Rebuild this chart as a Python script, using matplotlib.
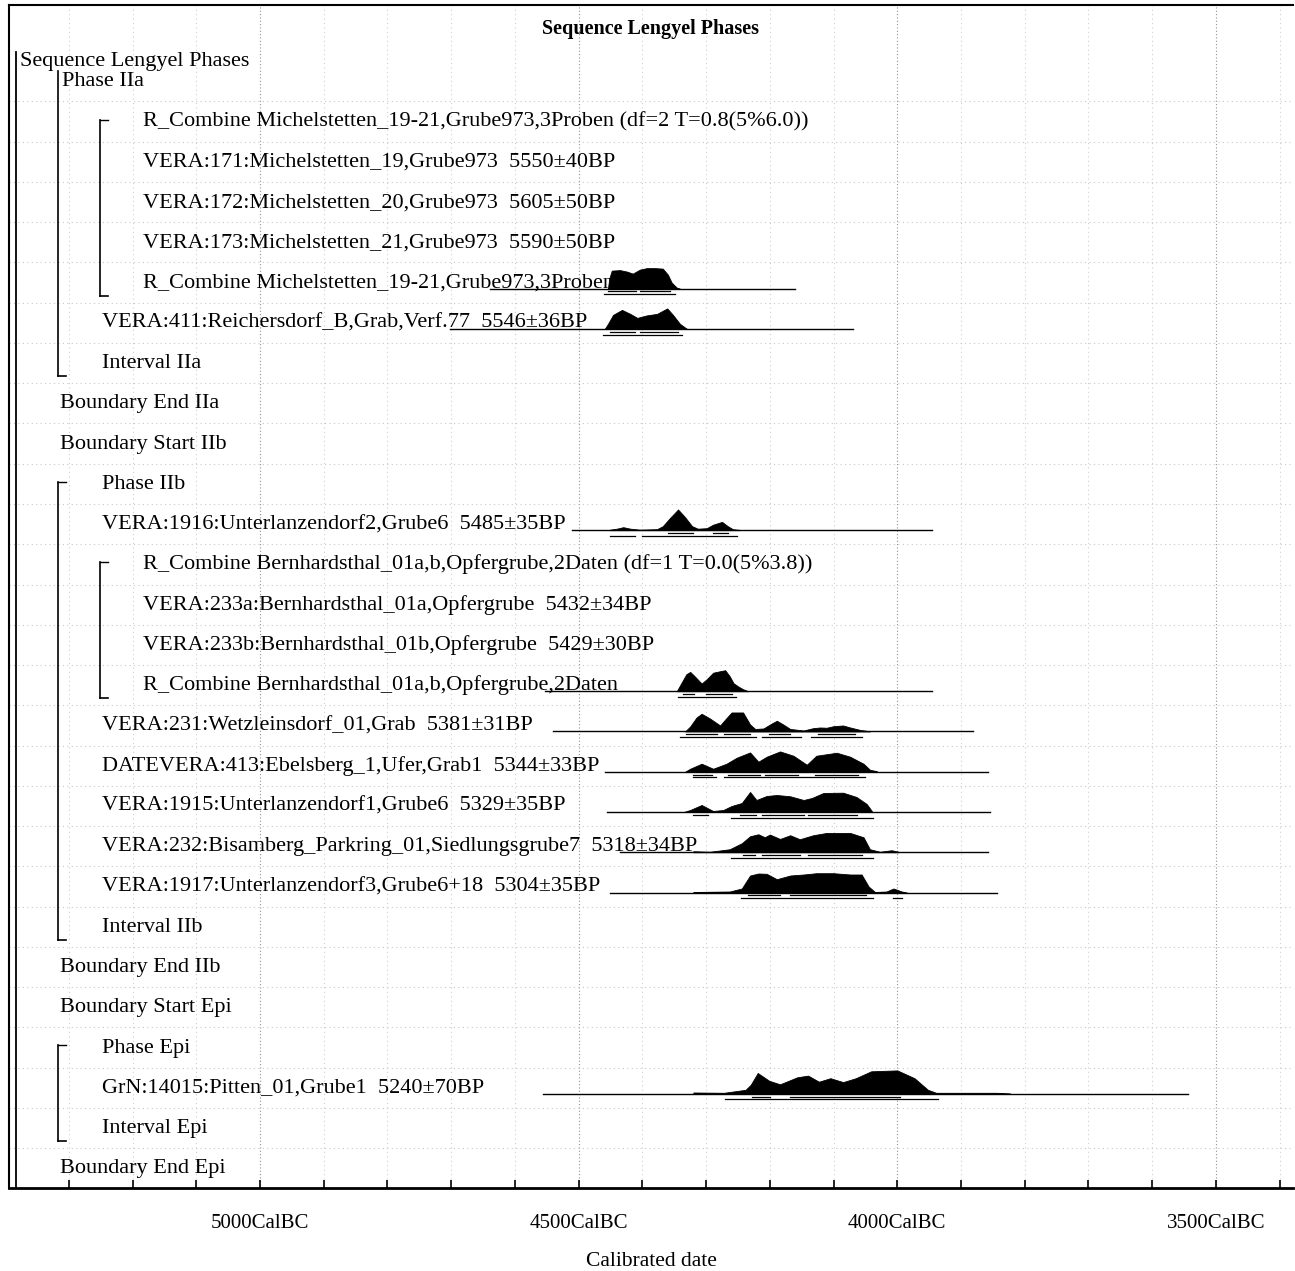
import matplotlib.pyplot as plt
from matplotlib.transforms import blended_transform_factory
import numpy as np

plt.rcParams["font.family"] = ["Liberation Serif", "DejaVu Serif"]

# ---- model structure: one label per row, indent level 0..3 ----
labels = [
    "Sequence Lengyel Phases",
    "Phase IIa",
    "R_Combine Michelstetten_19-21,Grube973,3Proben (df=2 T=0.8(5%6.0))",
    "VERA:171:Michelstetten_19,Grube973  5550\u00b140BP",
    "VERA:172:Michelstetten_20,Grube973  5605\u00b150BP",
    "VERA:173:Michelstetten_21,Grube973  5590\u00b150BP",
    "R_Combine Michelstetten_19-21,Grube973,3Proben",
    "VERA:411:Reichersdorf_B,Grab,Verf.77  5546\u00b136BP",
    "Interval IIa",
    "Boundary End IIa",
    "Boundary Start IIb",
    "Phase IIb",
    "VERA:1916:Unterlanzendorf2,Grube6  5485\u00b135BP",
    "R_Combine Bernhardsthal_01a,b,Opfergrube,2Daten (df=1 T=0.0(5%3.8))",
    "VERA:233a:Bernhardsthal_01a,Opfergrube  5432\u00b134BP",
    "VERA:233b:Bernhardsthal_01b,Opfergrube  5429\u00b130BP",
    "R_Combine Bernhardsthal_01a,b,Opfergrube,2Daten",
    "VERA:231:Wetzleinsdorf_01,Grab  5381\u00b131BP",
    "DATEVERA:413:Ebelsberg_1,Ufer,Grab1  5344\u00b133BP",
    "VERA:1915:Unterlanzendorf1,Grube6  5329\u00b135BP",
    "VERA:232:Bisamberg_Parkring_01,Siedlungsgrube7  5318\u00b134BP",
    "VERA:1917:Unterlanzendorf3,Grube6+18  5304\u00b135BP",
    "Interval IIb",
    "Boundary End IIb",
    "Boundary Start Epi",
    "Phase Epi",
    "GrN:14015:Pitten_01,Grube1  5240\u00b170BP",
    "Interval Epi",
    "Boundary End Epi",
]
levels = [0, 1, 3, 3, 3, 3, 3, 2, 2, 1, 1, 2, 2, 3, 3, 3, 3, 2, 2, 2, 2, 2, 2,
          1, 1, 2, 2, 2, 1]
rows = [-0.5] + list(range(28))

# brackets: (first row, last row, level)
groups = [(0, 7, 1), (1, 5, 2), (10, 21, 1), (12, 15, 2), (24, 26, 1)]

# ---- posterior densities (years cal BC, relative height) ----
michel_yr = [4454, 4452, 4448, 4435, 4424, 4415, 4404, 4393, 4380, 4368, 4360,
             4354, 4346, 4341]
michel_p = [0, 10, 18, 18.5, 17, 15, 19, 20.5, 20.5, 20, 14, 6, 1, 0]

v411_yr = [4459, 4454, 4446, 4432, 4419, 4408, 4393, 4377, 4361, 4352, 4341, 4330]
v411_p = [0, 5, 14, 19, 15, 11, 13.5, 15, 20.5, 14, 5, 0]

v1916_yr = [4451, 4440, 4430, 4419, 4404, 4377, 4368, 4357, 4344, 4333, 4322,
            4313, 4299, 4289, 4275, 4266, 4258, 4247]
v1916_p = [0.5, 1.5, 3, 1.5, 0.5, 1, 4, 12, 20.7, 13, 4, 1.5, 2, 5.5, 8.3, 4, 1, 0.3]

bern_yr = [4346, 4339, 4331, 4325, 4318, 4307, 4299, 4289, 4278, 4270, 4263,
           4257, 4249, 4242, 4234]
bern_p = [0, 8, 17, 19.3, 15, 7.7, 12, 18.5, 20, 21, 15, 8, 4.5, 2, 0]

v231_yr = [4333, 4325, 4315, 4307, 4294, 4278, 4270, 4260, 4242, 4231, 4223,
           4210, 4197, 4189, 4179, 4168, 4147, 4132, 4121, 4111, 4100, 4085,
           4074, 4058, 4043]
v231_p = [0, 5, 14, 17.7, 13, 6, 12, 19, 19, 7, 2.5, 3, 8, 10.7, 7, 2.5, 1,
          3.3, 4, 3.7, 5.3, 6, 4, 1.5, 0.3]

v413_yr = [4333, 4325, 4307, 4289, 4268, 4252, 4231, 4218, 4205, 4184, 4163,
           4142, 4127, 4095, 4074, 4053, 4043, 4032]
v413_p = [0, 3, 8, 3, 8, 14, 19.3, 10, 15, 20.3, 16, 7, 16, 19, 15, 8, 2, 0.5]

v1915_yr = [4335, 4325, 4307, 4289, 4273, 4260, 4244, 4231, 4221, 4205, 4189,
            4168, 4147, 4134, 4116, 4085, 4064, 4048, 4040]
v1915_p = [0, 2, 7, 1, 2, 6, 9, 20, 12, 16, 17, 15.7, 12, 14, 19, 19.3, 15, 8, 1]

v232_yr = [4320, 4294, 4263, 4244, 4231, 4218, 4208, 4200, 4184, 4168, 4153,
           4132, 4111, 4074, 4053, 4043, 4027, 4009, 3998]
v232_p = [1, 0.5, 3, 9, 16, 18, 15, 17.7, 13.3, 17, 13, 17, 19.3, 19.3, 15, 3,
          0.5, 2, 0.5]

v1917_yr = [4320, 4263, 4244, 4231, 4218, 4205, 4189, 4168, 4147, 4127, 4100,
            4074, 4056, 4045, 4035, 4017, 4006, 3993, 3985]
v1917_p = [0.5, 1, 4, 17, 19, 18.7, 13.3, 17, 18, 19.3, 19.3, 18, 18, 6, 0.5,
           1, 4, 1, 0]

grn_yr = [4320, 4272, 4238, 4230, 4219, 4201, 4184, 4157, 4140, 4123, 4105,
          4085, 4065, 4041, 4000, 3973, 3952, 3939, 3857, 3844, 3823]
grn_p = [1.3, 1, 4, 9, 20.8, 13, 9.5, 16.5, 18.2, 12.1, 15.6, 11.7, 15.6,
         22.5, 23.4, 15.6, 4, 1, 1, 1, 0.3]

# extent of the unmodelled likelihood line (cal BC)
spans = [(4639, 4161), (4702, 4070), (4510, 3946), (4553, 3946), (4540, 3881),
         (4459, 3858), (4456, 3855), (4435, 3858), (4451, 3844), (4556, 3544)]

# highest posterior density ranges (cal BC)
hpd68 = [
    [(4454, 4410), (4404, 4357)],
    [(4451, 4412), (4404, 4344)],
    [(4360, 4321), (4289, 4266)],
    [(4336, 4319), (4300, 4259)],
    [(4332, 4283), (4272, 4231), (4201, 4168), (4124, 4066)],
    [(4321, 4291), (4266, 4216), (4208, 4156), (4129, 4062)],
    [(4321, 4297), (4247, 4221), (4212, 4146), (4140, 4063)],
    [(4242, 4223), (4212, 4153), (4140, 4056)],
    [(4234, 4184), (4168, 4049)],
    [(4228, 4200), (4168, 3996)],
]
hpd95 = [
    [(4460, 4349)],
    [(4462, 4338)],
    [(4451, 4412), (4401, 4252)],
    [(4344, 4253)],
    [(4341, 4221), (4212, 4151), (4136, 4056)],
    [(4321, 4284), (4272, 4050)],
    [(4261, 4038)],
    [(4261, 4038)],
    [(4245, 4038), (4007, 3993)],
    [(4270, 3936)],
]
dist_rows = [5, 6, 11, 15, 16, 17, 18, 19, 20, 25]
dist_yr = [michel_yr, v411_yr, v1916_yr, bern_yr, v231_yr, v413_yr, v1915_yr,
           v232_yr, v1917_yr, grn_yr]
dist_p = [michel_p, v411_p, v1916_p, bern_p, v231_p, v413_p, v1915_p, v232_p,
          v1917_p, grn_p]

# ---- figure ----
W, H = 1295, 1271
ROW_PX = 40.26
X0, X1 = -5393.8, -3379.1
fig = plt.figure(figsize=(W / 100, H / 100), dpi=100)
ax = fig.add_axes([9 / W, 1 - 1188 / H, 1284 / W, 1183 / H])
ax.set_xlim(X0, X1)
ax.set_ylim(27.54, -1.845)


def xpix(p):
    # horizontal position given in pixels from the left of the frame
    return X0 + p * (X1 - X0) / 1284


# grid
for yr in range(-5300, -3399, 100):
    major = yr % 500 == 0
    ax.axvline(yr, color="#909090" if major else "#cfcfcf", lw=0.8,
               ls=(0, (1, 2)) if major else (0, (1, 3)), zorder=0)
for r in range(1, 28):
    ax.axhline(r - 0.45, color="#c8c8c8", lw=0.8, ls=(0, (1, 3)), zorder=0)

# labels
indent = {0: 11, 1: 51, 2: 93, 3: 134}
for lab, lev, r in zip(labels, levels, rows):
    x0 = indent[lev] + (2 if lab == "Phase IIa" else 0)
    ax.text(xpix(x0), r + 0.175, lab, fontsize=16, va="baseline", ha="left",
            color="black", zorder=3)

# brackets
bx = {0: 7, 1: 49, 2: 91}
ax.plot([xpix(bx[0])] * 2, [-0.67, 27.54], color="black", lw=1.3)
for first, last, lev in groups:
    x = xpix(bx[lev])
    top = first - (0.2 if first == 0 else 0.0)
    bottom = last + 0.38
    ax.plot([x, x], [top, bottom], color="black", lw=1.2)
    ax.plot([x, xpix(bx[lev] + 8)], [bottom, bottom], color="black", lw=1.2)
    if first != 0:
        ax.plot([x, xpix(bx[lev] + 8)], [top, top], color="black", lw=1.0)

# distributions
for r, yr, p, span, r68, r95 in zip(dist_rows, dist_yr, dist_p, spans, hpd68, hpd95):
    base = r + 0.2
    xs = -np.asarray(yr, float)
    hs = np.asarray(p, float) / ROW_PX
    ax.plot([-span[0], -span[1]], [base, base], color="black", lw=1.0, zorder=2)
    ax.fill_between(xs, base, base - hs, color="black", lw=0.6, zorder=2)
    for a, b in r68:
        ax.plot([-a, -b], [base + 0.07] * 2, color="black", lw=0.9, zorder=2)
    for a, b in r95:
        ax.plot([-a, -b], [base + 0.14] * 2, color="black", lw=0.9, zorder=2)

# title inside the frame
ax.text(0.5, -1.25, "Sequence Lengyel Phases",
        transform=blended_transform_factory(ax.transAxes, ax.transData),
        ha="center", va="center", fontsize=14.5, fontweight="bold")

# axis
major_ticks = [-5000, -4500, -4000, -3500]
ax.set_xticks(major_ticks)
ax.set_xticklabels([f"{-t}CalBC" for t in major_ticks], fontsize=15)
ax.set_xticks(list(range(-5300, -3399, 100)), minor=True)
ax.tick_params(axis="x", which="both", direction="in", length=6, width=1.2,
               pad=18.5)
ax.set_yticks([])
ax.set_xlabel("Calibrated date", fontsize=15.5, labelpad=14)
ax.spines["right"].set_visible(False)
ax.spines["bottom"].set_linewidth(2.0)
ax.spines["left"].set_linewidth(1.5)
ax.spines["top"].set_linewidth(1.5)

fig.savefig("out.png", dpi=100)
